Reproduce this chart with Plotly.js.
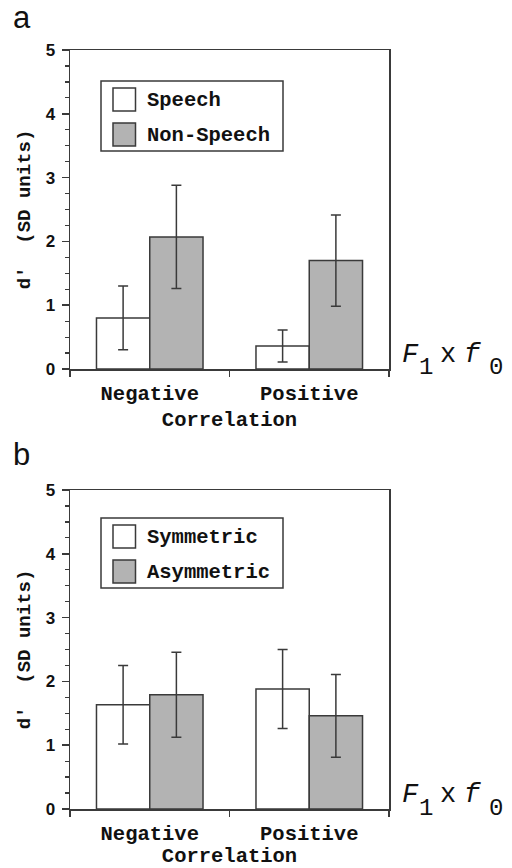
<!DOCTYPE html>
<html>
<head>
<meta charset="utf-8">
<script src="https://cdn.plot.ly/plotly-3.0.1.min.js"></script>
<style>html,body{margin:0;padding:0;background:#fff;}#chart{width:512px;height:868px;}</style>
</head>
<body>
<div id="chart"></div>
<script>
// ---- data ----
const categories = ['Negative', 'Positive'];
const speech = [0.80, 0.36];
const speechErr = [0.50, 0.25];
const nonSpeech = [2.07, 1.70];
const nonSpeechErr = [0.81, 0.715];
const symmetric = [1.635, 1.88];
const symmetricErr = [0.615, 0.62];
const asymmetric = [1.79, 1.46];
const asymmetricErr = [0.665, 0.65];
const seriesNamesA = ['Speech', 'Non-Speech'];
const seriesNamesB = ['Symmetric', 'Asymmetric'];
const yTickVals = [0, 1, 2, 3, 4, 5];
const xTitle = 'Correlation';
const yTitle = "d'&nbsp;&nbsp;(SD units)";
const panelLabels = ['a', 'b'];
const sideLabelParts = ['F', '1', 'x', 'f', '0'];

// ---- style ----
const W = 512, H = 868;
const px = x => x / W;
const py = y => 1 - y / H;
const LINE = '#3a3a3a';
const GRAY = '#b3b3b3';
const TXT = '#111';
const MONO = 'Liberation Mono, Courier New, monospace';
const SANS = 'Liberation Sans, Arial, sans-serif';

function barTrace(name, vals, errs, fill, xa, ya) {
  return {
    type: 'bar', name: name, x: categories, y: vals, xaxis: xa, yaxis: ya,
    marker: {color: fill, line: {color: LINE, width: 1.5}},
    error_y: {type: 'data', array: errs, visible: true, color: LINE, thickness: 1.5, width: 5},
    showlegend: false
  };
}

const data = [
  barTrace(seriesNamesA[0], speech, speechErr, '#ffffff', 'x', 'y'),
  barTrace(seriesNamesA[1], nonSpeech, nonSpeechErr, GRAY, 'x', 'y'),
  barTrace(seriesNamesB[0], symmetric, symmetricErr, '#ffffff', 'x2', 'y2'),
  barTrace(seriesNamesB[1], asymmetric, asymmetricErr, GRAY, 'x2', 'y2')
];

function xAxis(dom, anchor) {
  return {
    domain: dom, anchor: anchor, type: 'category', range: [-0.5, 1.5],
    tickson: 'boundaries', ticks: 'outside', ticklen: 6, tickwidth: 1.5, tickcolor: LINE,
    showline: true, linecolor: LINE, linewidth: 1.5, mirror: true, showgrid: false,
    tickfont: {family: MONO, size: 20.5, color: TXT, weight: 'bold'},
    ticklabelstandoff: 5,
    title: {text: xTitle, font: {family: MONO, size: 20.5, color: TXT, weight: 'bold'}, standoff: 6},
    automargin: false, fixedrange: true
  };
}
function yAxis(dom, anchor) {
  return {
    domain: dom, anchor: anchor, range: [0, 5], tickvals: yTickVals,
    ticks: 'outside', ticklen: 7, tickwidth: 1.5, tickcolor: LINE,
    minor: {dtick: 0.25, ticks: 'outside', ticklen: 4, tickwidth: 1.2, tickcolor: LINE, showgrid: false},
    showline: true, linecolor: LINE, linewidth: 1.5, mirror: true, showgrid: false, zeroline: false,
    tickfont: {family: SANS, size: 17, color: TXT, weight: 'bold'},
    ticklabelstandoff: 3,
    title: {text: yTitle, font: {family: MONO, size: 19, color: TXT, weight: 'bold'}, standoff: 10},
    automargin: false, fixedrange: true
  };
}

const xDom = [px(70), px(389)];
const layout = {
  width: W, height: H,
  margin: {l: 0, r: 0, t: 0, b: 0},
  paper_bgcolor: '#fff', plot_bgcolor: '#fff',
  barmode: 'group', bargap: 0.332, bargroupgap: 0,
  showlegend: false,
  xaxis: xAxis(xDom, 'y'),
  yaxis: yAxis([py(369), py(50)], 'x'),
  xaxis2: xAxis(xDom, 'y2'),
  yaxis2: yAxis([py(809), py(490)], 'x2'),
  shapes: [], annotations: []
};

// custom legends (box + swatches), positioned in pixels
function addLegend(top, names) {
  layout.shapes.push({type: 'rect', xref: 'paper', yref: 'paper',
    x0: px(101), x1: px(283), y0: py(top), y1: py(top + 70),
    line: {color: LINE, width: 1.5}, fillcolor: 'rgba(0,0,0,0)'});
  const fills = ['#ffffff', GRAY];
  for (let i = 0; i < 2; i++) {
    const sTop = top + 7 + i * 35;
    layout.shapes.push({type: 'rect', xref: 'paper', yref: 'paper',
      x0: px(113), x1: px(135.5), y0: py(sTop), y1: py(sTop + 23),
      line: {color: LINE, width: 1.5}, fillcolor: fills[i]});
    layout.annotations.push({xref: 'paper', yref: 'paper', x: px(145), y: py(sTop + 12),
      xanchor: 'left', yanchor: 'middle', showarrow: false, text: names[i],
      font: {family: MONO, size: 20.5, color: TXT, weight: 'bold'}});
  }
}
addLegend(81, seriesNamesA);
addLegend(518, seriesNamesB);

// panel letters
[[panelLabels[0], 17], [panelLabels[1], 454]].forEach(([t, y]) => {
  layout.annotations.push({xref: 'paper', yref: 'paper', x: px(11), y: py(y),
    xanchor: 'left', yanchor: 'middle', showarrow: false, text: t,
    font: {family: SANS, size: 31, color: TXT}});
});

// F1 x f0 side labels: each glyph placed separately (subscripts near full size)
const partX = [410, 426, 448, 472, 496];     // glyph centres (px)
const partDy = [0, 13, 0, 0, 13];            // subscript drop (px)
const partItalic = [true, false, false, true, false];
const partSize = [27, 24, 27, 27, 24];
[355, 795].forEach(yc => {
  sideLabelParts.forEach((t, i) => {
    layout.annotations.push({xref: 'paper', yref: 'paper', x: px(partX[i]), y: py(yc + partDy[i]),
      xanchor: 'center', yanchor: 'middle', showarrow: false, text: t,
      font: {family: MONO, size: partSize[i], color: TXT, style: partItalic[i] ? 'italic' : 'normal'}});
  });
});

Plotly.newPlot('chart', data, layout, {staticPlot: true, displayModeBar: false});
</script>
</body>
</html>
